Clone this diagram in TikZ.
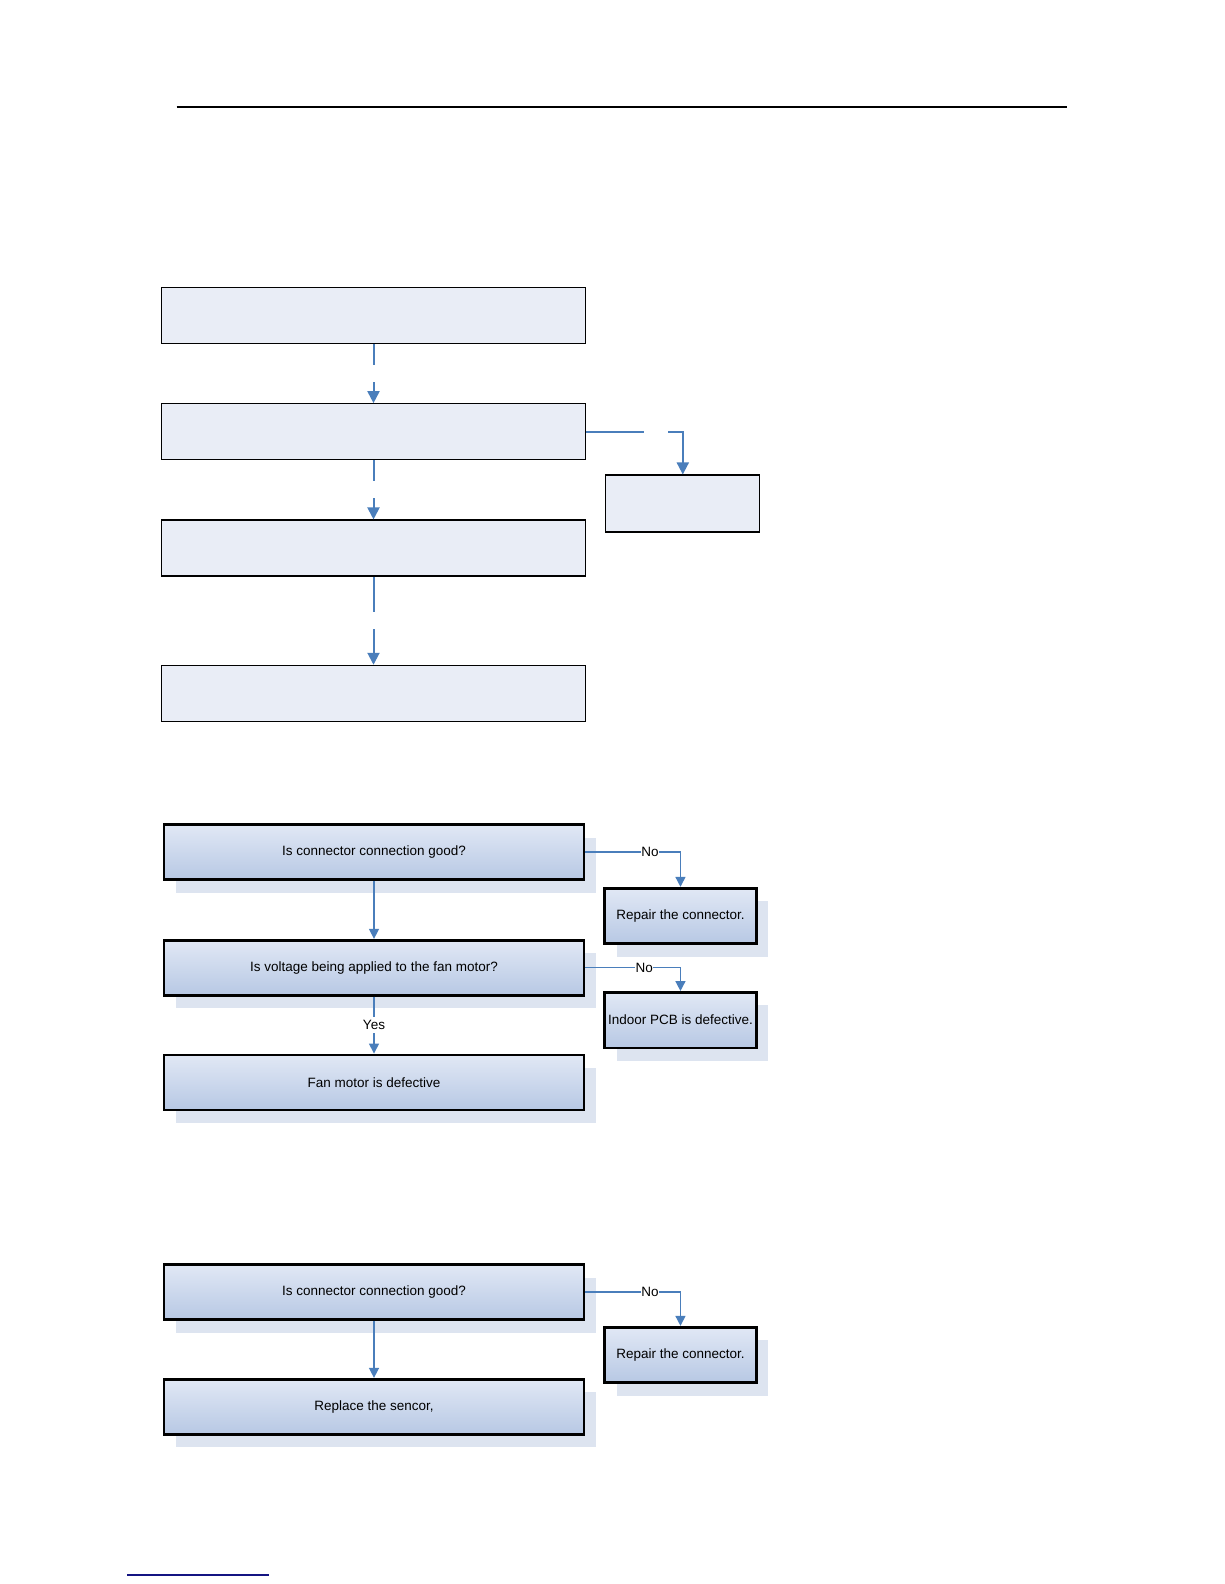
\documentclass[tikz,border=0pt]{standalone}
\usepackage{fontspec}
\setmainfont{Liberation Sans}
\usepackage{xcolor}
\usepackage{tikz}
\usetikzlibrary{positioning}
\usetikzlibrary{arrows.meta,shadows}
\definecolor{flowblue}{RGB}{74,126,187}
\definecolor{paleblue}{RGB}{233,237,246}
\definecolor{boxtop}{RGB}{225,232,245}
\definecolor{boxbottom}{RGB}{183,200,228}
\definecolor{shadowblue}{RGB}{221,228,240}
\definecolor{linknavy}{RGB}{20,20,130}

\begin{document}
\begin{tikzpicture}[x=1pt, y=-1pt, node distance=59pt,
  font=\fontsize{13.5}{16}\selectfont,
  emptybox/.style={draw, line width=1.3pt, fill=paleblue, minimum width=424pt, minimum height=56pt},
  emptyside/.style={emptybox, minimum width=154pt, minimum height=57pt},
  stepbox/.style={draw, line width=2.7pt, top color=boxtop, bottom color=boxbottom,
    minimum width=420pt, minimum height=55pt, inner sep=1pt,
    drop shadow={shadow xshift=12pt, shadow yshift=-13pt, fill=shadowblue, opacity=1}},
  sidebox/.style={stepbox, minimum width=151.5pt, minimum height=55.5pt},
  link/.style={draw=flowblue, line width=2pt, -{Triangle[length=12pt, width=12pt]}},
  thinlink/.style={draw=flowblue, line width=1.5pt, -{Triangle[length=10pt, width=10pt]}},
  vhole/.style={fill=white, inner sep=0pt, minimum width=8pt, minimum height=17pt},
  hhole/.style={fill=white, inner sep=0pt, minimum width=24pt, minimum height=8pt},
  answer/.style={fill=white, inner xsep=0.5pt, inner ysep=3pt}]
  \useasboundingbox (0,0) rectangle (1224,1584);
  \draw[line width=1.3pt] (176.5,107) -- (1067,107);

  \node[emptybox] (A1) at (373.5,315.5) {};
  \node[emptybox] (A2) [below=59pt of A1] {};
  \node[emptybox] (A3) [below=59pt of A2] {};
  \node[emptybox] (A4) [below=88pt of A3] {};
  \node[emptyside] (S1) [below right=14pt and 19pt of A2.south east] {};
  \draw[link] (A1) -- node[vhole] {} (A2);
  \draw[link] (A2) -- node[vhole] {} (A3);
  \draw[link] (A3) -- node[vhole] {} (A4);
  \draw[link] (A2.east) -| node[pos=0.36, hhole] {} (S1.north);

  \node[stepbox] (B1) at (374,852) {Is connector connection good?};
  \node[stepbox] (B2) [below=58pt of B1] {Is voltage being applied to the fan motor?};
  \node[stepbox] (B3) [below=57pt of B2] {Fan motor is defective};
  \node[sidebox] (C1) [below right=6pt and 18pt of B1.south east] {Repair the connector.};
  \node[sidebox] (C2) [below=46pt of C1] {Indoor PCB is defective.};
  \draw[thinlink] (B1) -- (B2);
  \draw[thinlink] (B2) -- node[answer] {Yes} (B3);
  \draw[thinlink] (B1.east) -| node[pos=0.34, answer] {No} (C1.north);
  \draw[thinlink] (B2.east) -| node[pos=0.31, answer] {No} (C2.north);

  \node[stepbox] (D1) at (374,1292) {Is connector connection good?};
  \node[stepbox] (D2) [below=57pt of D1] {Replace the sencor,};
  \node[sidebox] (E1) [below right=5pt and 18pt of D1.south east] {Repair the connector.};
  \draw[thinlink] (D1) -- (D2);
  \draw[thinlink] (D1.east) -| node[pos=0.34, answer] {No} (E1.north);

  \draw[linknavy, line width=1.5pt] (127,1575) -- (269,1575);
\end{tikzpicture}
\end{document}
